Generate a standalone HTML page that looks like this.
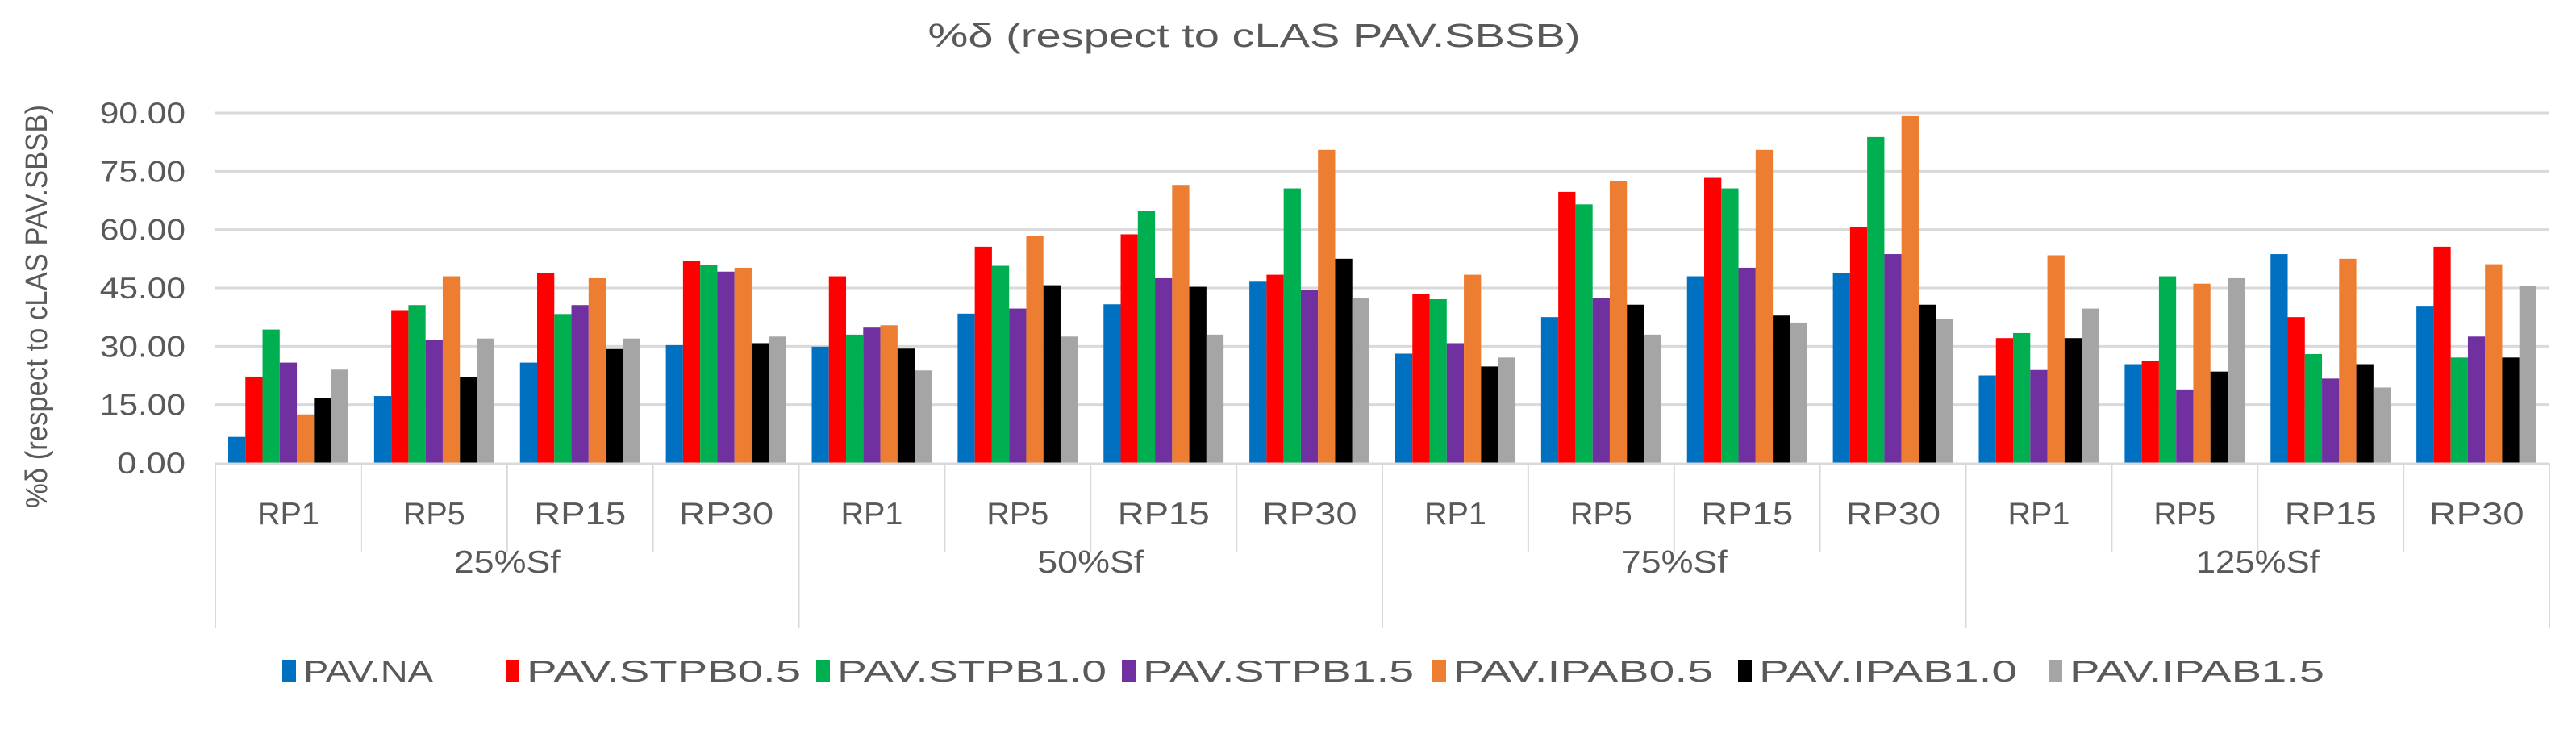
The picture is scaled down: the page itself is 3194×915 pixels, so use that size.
<!DOCTYPE html>
<html><head><meta charset="utf-8">
<style>
html,body{margin:0;padding:0;background:#fff;}
svg{display:block;font-family:"Liberation Sans",sans-serif;}
</style></head>
<body>
<svg id="chart" width="3194" height="915" viewBox="0 0 3194 915" xmlns="http://www.w3.org/2000/svg">
<text x="1555" y="58" font-size="41" fill="#595959" text-anchor="middle" textLength="809" lengthAdjust="spacingAndGlyphs">%δ (respect to cLAS PAV.SBSB)</text>
<text transform="translate(58,380) rotate(-90)" font-size="38" fill="#595959" text-anchor="middle" textLength="500" lengthAdjust="spacingAndGlyphs">%δ (respect to cLAS PAV.SBSB)</text>
<g id="grid"></g>
<g id="yticks"></g>
<g id="bars"></g>
<g id="xaxis"></g>
<g id="legend"></g>
</svg>
<script>
const groups = ["25%Sf","50%Sf","75%Sf","125%Sf"];
const periods = ["RP1","RP5","RP15","RP30"];
const seriesNames = ["PAV.NA","PAV.STPB0.5","PAV.STPB1.0","PAV.STPB1.5","PAV.IPAB0.5","PAV.IPAB1.0","PAV.IPAB1.5"];
const seriesColors = ["#0070c0","#ff0000","#00b050","#7030a0","#ed7d31","#000000","#a5a5a5"];
const yTicks = [0,15,30,45,60,75,90];
const yTickLabels = ["0.00","15.00","30.00","45.00","60.00","75.00","90.00"];
const sNA    = [6.7,17.2,25.8,30.3, 29.9,38.4,40.8,46.6, 28.1,37.5,48.0,48.8, 22.5,25.4,53.7,40.2];
const sSTPB05= [22.2,39.3,48.8,51.9, 48.0,55.6,58.8,48.4, 43.5,69.7,73.3,60.6, 32.1,26.2,37.5,55.6];
const sSTPB10= [34.3,40.6,38.3,51.0, 33.0,50.7,64.8,70.6, 42.1,66.5,70.6,83.8, 33.4,48.0,28.0,27.1];
const sSTPB15= [25.8,31.6,40.6,49.2, 34.8,39.7,47.5,44.4, 30.8,42.5,50.2,53.7, 23.9,18.9,21.7,32.5];
const sIPAB05= [12.5,48.0,47.5,50.2, 35.4,58.3,71.5,80.5, 48.4,72.4,80.5,89.2, 53.4,46.1,52.5,51.1];
const sIPAB10= [16.7,22.1,29.3,30.8, 29.4,45.7,45.3,52.5, 24.8,40.7,37.9,40.7, 32.1,23.5,25.4,27.1];
const sIPAB15= [24.0,32.0,32.0,32.5, 23.8,32.5,33.0,42.5, 27.1,33.0,36.1,37.0, 39.7,47.5,19.4,45.6];
const seriesValues = [sNA,sSTPB05,sSTPB10,sSTPB15,sIPAB05,sIPAB10,sIPAB15];

const NS="http://www.w3.org/2000/svg";
const L=267, R=3161, Y0=574, Y90=140;
const nCat = groups.length*periods.length;
const catW=(R-L)/nCat;
const y = v => Y0 - (v/90)*(Y0-Y90);
const xCat = i => L + i*catW;
function mk(tag, attrs, parent){const e=document.createElementNS(NS,tag);for(const k in attrs)e.setAttribute(k,attrs[k]);parent.appendChild(e);return e;}
const charW = 21.3;

const grid=document.getElementById('grid'), yt=document.getElementById('yticks');
yTicks.forEach((t,i)=>{
  if(t>0){const g=mk('line',{x1:L,x2:R,y1:y(t),y2:y(t),stroke:'#d9d9d9','stroke-width':3},grid);
  
  }
  const lab=yTickLabels[i];
  const tx=mk('text',{x:230,y:y(t)+13,'font-size':37,fill:'#595959','text-anchor':'end',textLength:(lab.length-1)*charW+21,lengthAdjust:'spacingAndGlyphs'},yt);
  tx.textContent=lab;
  
  
});

const bars=document.getElementById('bars');
const pad=16, bw=(catW-2*pad)/seriesNames.length;
for(let c=0;c<nCat;c++){
  seriesValues.forEach((arr,s)=>{
    const v=arr[c];
    const r=mk('rect',{x:xCat(c)+pad+s*bw,y:y(v),width:bw,height:Y0-y(v),fill:seriesColors[s]},bars);
    
    
  });
}

const xa=document.getElementById('xaxis');
const ax=mk('line',{x1:L,x2:R,y1:Y0+1,y2:Y0+1,stroke:'#d9d9d9','stroke-width':3},xa);


const rpLen={"RP1":77,"RP5":77,"RP15":114,"RP30":118};
for(let c=0;c<=nCat;c++){
  const isGroup = c%periods.length===0;
  const ln=mk('line',{x1:xCat(c),x2:xCat(c),y1:Y0,y2:isGroup?778:685,stroke:'#d9d9d9','stroke-width':2},xa);
  
  
  if(c<nCat){
    const p=periods[c%periods.length];
    const t=mk('text',{x:xCat(c)+catW/2,y:650,'font-size':39,fill:'#595959','text-anchor':'middle',textLength:rpLen[p],lengthAdjust:'spacingAndGlyphs'},xa);
    t.textContent=p;
    
    
  }
}
groups.forEach((g,i)=>{
  const t=mk('text',{x:xCat(i*periods.length)+catW*periods.length/2,y:710,'font-size':39,fill:'#595959','text-anchor':'middle',textLength:g.length>5?153:132,lengthAdjust:'spacingAndGlyphs'},xa);
  t.textContent=g;
  
  
});

const lg=document.getElementById('legend');
const legX=[350,627,1012,1391,1776,2155,2540];
const legLen=[161,340,334,336,322,320,316];
seriesNames.forEach((n,i)=>{
  const sw=mk('rect',{x:legX[i],y:818,width:17,height:28,fill:seriesColors[i]},lg);
  
  
  const t=mk('text',{x:legX[i]+26,y:845,'font-size':37,fill:'#595959',textLength:legLen[i],lengthAdjust:'spacingAndGlyphs'},lg);
  t.textContent=n;
  
  
});
</script>
</body></html>
